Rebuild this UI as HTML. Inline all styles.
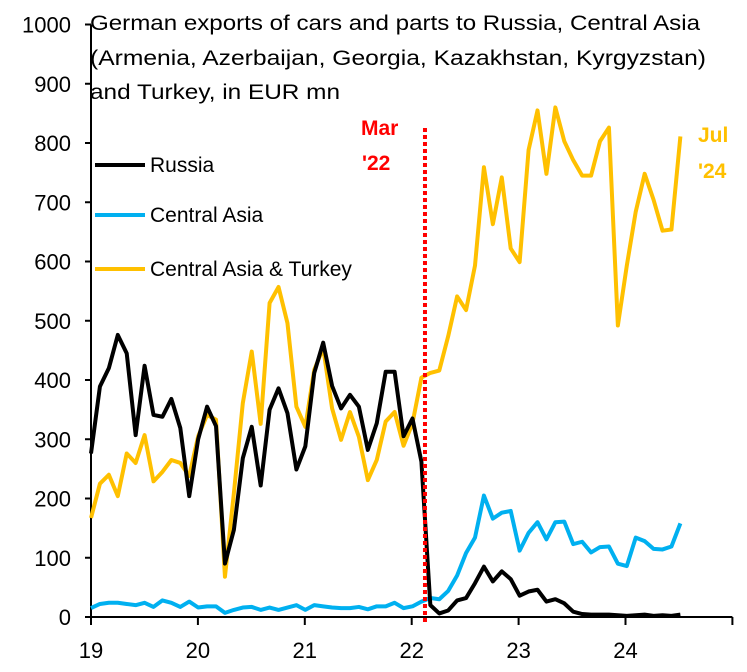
<!DOCTYPE html>
<html><head><meta charset="utf-8"><style>
html,body{margin:0;padding:0;background:#fff;}
svg{display:block;font-family:"Liberation Sans",sans-serif;}
</style></head><body>
<svg id="chart" width="747" height="672" viewBox="0 0 747 672">
<g id="axes"></g>
<g id="series"></g>
<g font-size="21" fill="#000">
<text x="90" y="30" textLength="610" lengthAdjust="spacingAndGlyphs">German exports of cars and parts to Russia, Central Asia</text>
<text x="90" y="65" textLength="616" lengthAdjust="spacingAndGlyphs">(Armenia, Azerbaijan, Georgia, Kazakhstan, Kyrgyzstan)</text>
<text x="90" y="99" textLength="250" lengthAdjust="spacingAndGlyphs">and Turkey, in EUR mn</text>
</g>
<g font-size="21">
<g><line x1="95" y1="165" x2="145" y2="165" stroke="#000" stroke-width="4"/><text x="150" y="172">Russia</text></g>
<g><line x1="95" y1="215" x2="145" y2="215" stroke="#00B0F0" stroke-width="4"/><text x="150" y="222">Central Asia</text></g>
<g><line x1="95" y1="269" x2="145" y2="269" stroke="#FFC000" stroke-width="4"/><text x="150" y="276">Central Asia &amp; Turkey</text></g>
</g>
<g font-size="21" font-weight="bold" fill="#FF0000">
<text x="361" y="135">Mar</text><text x="362" y="170">'22</text>
</g>
<g font-size="21" font-weight="bold" fill="#FFC000">
<text x="698" y="142">Jul</text><text x="698" y="178">'24</text>
</g>
</svg>
<script>
const russia=[276,389,420,476,445,307,424,341,338,368,319,204,300,355,322,90,147,268,321,222,350,386,344,249,288,412,463,390,352,375,355,282,327,414,414,305,335,262,20,6,11,28,32,57,85,60,77,64,36,43,46,26,30,23,9,5,4,4,4,3,2,3,4,2,3,2,4];
const centralAsia=[15,22,24,24,22,20,24,17,28,24,17,26,16,18,18,7,12,16,17,12,16,12,16,20,12,20,18,16,15,15,17,13,18,18,24,15,18,26,32,30,44,70,108,134,205,166,176,179,112,142,160,131,160,161,123,127,109,118,119,90,86,134,128,115,114,119,158];
const caTurkey=[167,225,240,204,276,260,307,229,245,265,260,238,305,341,333,68,209,361,448,326,530,557,496,355,321,417,454,352,299,346,304,231,265,330,346,289,327,404,412,416,474,541,518,593,759,663,742,622,599,788,855,748,860,803,771,745,745,803,826,492,593,684,748,704,652,654,811];
const yTicks=[0,100,200,300,400,500,600,700,800,900,1000];
const xTickLabels=["19","20","21","22","23","24"];
const marIndex=37.4;
const NS="http://www.w3.org/2000/svg";
function xScale(i){return 91+i*8.93;}
function xYear(k){return 91+k*106.9;}
function yScale(v){return 617-v*0.5925;}
function mk(tag,attrs,parent){const e=document.createElementNS(NS,tag);for(const k in attrs)e.setAttribute(k,attrs[k]);parent.appendChild(e);return e;}
const axes=document.getElementById('axes');
const series=document.getElementById('series');
yTicks.forEach(v=>{
  const t=mk('line',{x1:85,x2:91,y1:yScale(v),y2:yScale(v),stroke:'#000','stroke-width':2},axes);
  
  
  const l=mk('text',{x:71,y:yScale(v)+8,'text-anchor':'end','font-size':22},axes);
  l.textContent=v;
  
  
});
for(let k=0;k<=xTickLabels.length;k++){
  const t=mk('line',{x1:xYear(k),x2:xYear(k),y1:617,y2:625,stroke:'#000','stroke-width':2},axes);
  
  
  if(k<xTickLabels.length){
    const l=mk('text',{x:xYear(k),y:658,'text-anchor':'middle','font-size':22},axes);
    l.textContent=xTickLabels[k];
    
    
  }
}
const ya=mk('line',{x1:91,x2:91,y1:yScale(1000),y2:618,stroke:'#000','stroke-width':2},axes);


const xa=mk('line',{x1:90,x2:xYear(6),y1:617,y2:617,stroke:'#000','stroke-width':2},axes);


function line(data,color,name){
  const p=mk('polyline',{points:data.map((v,i)=>xScale(i)+','+yScale(v)).join(' '),fill:'none',stroke:color,'stroke-width':4,'stroke-linejoin':'round'},series);
  
  
}
line(caTurkey,'#FFC000','central-asia-turkey-line');
line(centralAsia,'#00B0F0','central-asia-line');
line(russia,'#000000','russia-line');
const vl=mk('line',{x1:xScale(marIndex),x2:xScale(marIndex),y1:128,y2:624,stroke:'#FF0000','stroke-width':4,'stroke-dasharray':'4 3'},series);


</script>
</body></html>
